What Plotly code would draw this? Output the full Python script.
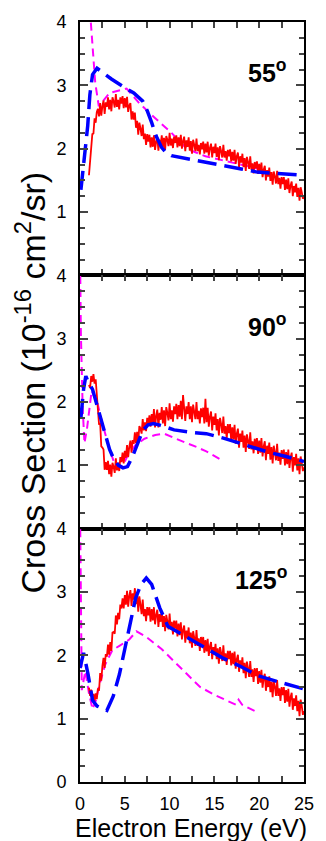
import plotly.graph_objects as go
from plotly.subplots import make_subplots

# ---------------- data ----------------
angle_labels = ["55", "90", "125"]

# experimental (red, noisy) – energies start at 1.0 eV, step 0.125 eV
exp_start = 1.0
exp_step = 0.125
exp_55 = [
    1.58, 1.80, 1.90, 2.23, 2.24, 2.48, 2.41, 2.58,
    2.63, 2.51, 2.72, 2.52, 2.67, 2.76, 2.55, 2.73,
    2.66, 2.81, 2.62, 2.77, 2.59, 2.81, 2.75, 2.65,
    2.86, 2.66, 2.77, 2.62, 2.81, 2.71, 2.83, 2.64,
    2.80, 2.65, 2.82, 2.58, 2.68, 2.72, 2.46, 2.59,
    2.46, 2.57, 2.33, 2.44, 2.22, 2.41, 2.32, 2.20,
    2.38, 2.15, 2.24, 2.06, 2.23, 2.11, 2.22, 2.02,
    2.18, 2.03, 2.21, 1.98, 2.11, 2.18, 1.97, 2.14,
    2.06, 2.21, 2.02, 2.17, 1.98, 2.20, 2.14, 2.04,
    2.25, 2.05, 2.16, 2.01, 2.19, 2.09, 2.21, 2.02,
    2.18, 2.04, 2.22, 2.00, 2.12, 2.19, 1.96, 2.13,
    2.03, 2.18, 1.97, 2.12, 1.92, 2.14, 2.06, 1.96,
    2.16, 1.96, 2.06, 1.91, 2.09, 1.99, 2.11, 1.92,
    2.08, 1.94, 2.11, 1.89, 2.01, 2.08, 1.86, 2.03,
    1.93, 2.08, 1.87, 2.02, 1.82, 2.04, 1.96, 1.86,
    2.06, 1.86, 1.96, 1.81, 1.98, 1.88, 1.99, 1.80,
    1.95, 1.81, 1.98, 1.76, 1.88, 1.94, 1.71, 1.88,
    1.78, 1.92, 1.71, 1.85, 1.65, 1.87, 1.79, 1.68,
    1.88, 1.67, 1.77, 1.61, 1.79, 1.69, 1.80, 1.60,
    1.76, 1.61, 1.78, 1.55, 1.67, 1.73, 1.50, 1.66,
    1.56, 1.70, 1.49, 1.63, 1.43, 1.64, 1.56, 1.45,
    1.65, 1.44, 1.54, 1.37, 1.55, 1.44, 1.55, 1.35,
    1.51, 1.36, 1.53, 1.30, 1.42, 1.48, 1.25, 1.41,
    1.31, 1.45, 1.24, 1.38, 1.18, 1.39, 1.31, 1.21,
    1.24]
exp_90 = [
    2.27, 2.22, 2.41, 2.32, 2.44, 2.29, 2.36, 2.12,
    1.93, 1.64, 1.67, 1.30, 1.28, 1.25, 0.93, 1.05,
    0.93, 1.07, 0.86, 1.01, 0.82, 1.04, 0.98, 0.88,
    1.11, 0.92, 1.04, 0.91, 1.13, 1.05, 1.20, 1.03,
    1.23, 1.12, 1.32, 1.13, 1.29, 1.39, 1.20, 1.40,
    1.34, 1.52, 1.35, 1.53, 1.37, 1.62, 1.58, 1.50,
    1.73, 1.55, 1.68, 1.54, 1.75, 1.66, 1.79, 1.61,
    1.81, 1.64, 1.89, 1.60, 1.78, 1.88, 1.60, 1.83,
    1.72, 1.92, 1.66, 1.87, 1.62, 1.92, 1.83, 1.71,
    1.98, 1.73, 1.87, 1.69, 1.93, 1.81, 1.97, 1.73,
    1.95, 1.77, 2.02, 1.73, 2.11, 1.91, 1.70, 1.93,
    1.81, 2.00, 1.73, 1.93, 1.68, 1.96, 1.87, 1.73,
    2.00, 1.73, 1.86, 1.66, 1.90, 1.76, 1.91, 1.66,
    2.05, 1.68, 1.91, 1.61, 1.77, 1.85, 1.55, 1.77,
    1.64, 1.82, 1.55, 1.73, 1.47, 1.75, 1.65, 1.51,
    1.77, 1.50, 1.62, 1.42, 1.65, 1.51, 1.65, 1.39,
    1.60, 1.41, 1.64, 1.34, 1.50, 1.58, 1.28, 1.50,
    1.37, 1.55, 1.28, 1.47, 1.21, 1.49, 1.39, 1.26,
    1.52, 1.25, 1.38, 1.19, 1.42, 1.28, 1.43, 1.18,
    1.39, 1.20, 1.43, 1.14, 1.30, 1.38, 1.08, 1.31,
    1.18, 1.36, 1.09, 1.29, 1.03, 1.31, 1.21, 1.08,
    1.34, 1.07, 1.20, 1.01, 1.24, 1.10, 1.25, 1.00,
    1.21, 1.02, 1.25, 0.96, 1.12, 1.20, 0.90, 1.13,
    1.00, 1.18, 0.92, 1.11, 0.86, 1.14, 1.04, 0.91,
    0.97]
exp_125 = [
    1.49, 1.36, 1.46, 1.31, 1.39, 1.28, 1.40, 1.31,
    1.48, 1.44, 1.72, 1.60, 1.83, 1.96, 1.80, 2.02,
    1.98, 2.17, 2.01, 2.21, 2.07, 2.36, 2.37, 2.34,
    2.63, 2.49, 2.67, 2.57, 2.80, 2.74, 2.90, 2.74,
    2.95, 2.80, 3.02, 2.77, 2.94, 3.03, 2.78, 2.98,
    2.88, 3.06, 2.81, 2.97, 2.69, 2.93, 2.80, 2.65,
    2.88, 2.62, 2.73, 2.54, 2.76, 2.63, 2.76, 2.53,
    2.73, 2.55, 2.76, 2.49, 2.64, 2.72, 2.45, 2.65,
    2.53, 2.70, 2.45, 2.62, 2.38, 2.64, 2.54, 2.41,
    2.66, 2.41, 2.53, 2.33, 2.55, 2.42, 2.55, 2.30,
    2.50, 2.32, 2.52, 2.25, 2.40, 2.47, 2.20, 2.39,
    2.27, 2.44, 2.19, 2.36, 2.12, 2.38, 2.28, 2.15,
    2.40, 2.15, 2.27, 2.07, 2.29, 2.16, 2.29, 2.04,
    2.24, 2.06, 2.26, 1.99, 2.14, 2.21, 1.94, 2.13,
    2.01, 2.18, 1.94, 2.11, 1.87, 2.13, 2.04, 1.91,
    2.16, 1.91, 2.03, 1.85, 2.07, 1.94, 2.07, 1.84,
    2.04, 1.86, 2.06, 1.79, 1.94, 2.01, 1.74, 1.92,
    1.80, 1.97, 1.72, 1.88, 1.64, 1.90, 1.80, 1.66,
    1.91, 1.66, 1.78, 1.58, 1.80, 1.67, 1.80, 1.55,
    1.75, 1.57, 1.77, 1.49, 1.64, 1.71, 1.44, 1.62,
    1.50, 1.67, 1.42, 1.58, 1.34, 1.60, 1.50, 1.36,
    1.61, 1.36, 1.48, 1.28, 1.50, 1.37, 1.50, 1.25,
    1.45, 1.27, 1.47, 1.19, 1.34, 1.41, 1.14, 1.32,
    1.20, 1.37, 1.12, 1.28, 1.04, 1.30, 1.20, 1.06,
    1.12]

# theory 1 (blue long dash)
blue_55_e = [0.1, 0.5, 0.86, 1.1, 1.4, 1.9, 3.5, 5.15, 6.0, 7.0, 7.5, 8.0, 8.5, 9.1, 9.6, 10.2, 11.6, 14.0, 15.9, 18.0, 19.8, 22.5, 25.0]
blue_55_v = [1.35, 1.85, 2.36, 2.85, 3.17, 3.27, 3.10, 2.95, 2.88, 2.75, 2.60, 2.41, 2.20, 2.02, 1.94, 1.89, 1.85, 1.79, 1.73, 1.68, 1.63, 1.60, 1.58]
blue_90_e = [0.1, 0.4, 0.65, 0.9, 1.4, 2.0, 2.7, 3.3, 3.8, 4.3, 4.8, 5.3, 5.9, 6.4, 7.0, 7.6, 8.2, 9.0, 10.5, 12.5, 14.1, 16.0, 17.7, 19.5, 21.2, 23.0, 25.0]
blue_90_v = [1.75, 2.20, 2.41, 2.32, 2.20, 1.90, 1.51, 1.25, 1.09, 1.00, 0.96, 0.98, 1.15, 1.33, 1.55, 1.64, 1.66, 1.63, 1.56, 1.52, 1.50, 1.43, 1.35, 1.28, 1.20, 1.14, 1.06]
blue_125_e = [0.0, 0.4, 0.9, 1.4, 1.9, 2.5, 3.0, 3.7, 4.4, 5.0, 5.6, 6.2, 6.8, 7.4, 8.0, 8.9, 9.8, 11.6, 13.5, 15.9, 18.0, 19.8, 22.2, 25.0]
blue_125_v = [1.80, 2.04, 1.70, 1.29, 1.20, 1.16, 1.13, 1.35, 1.70, 2.10, 2.50, 2.90, 3.12, 3.22, 3.12, 2.75, 2.46, 2.31, 2.15, 1.96, 1.82, 1.68, 1.58, 1.47]

# theory 2 (magenta short dash)
mag_55_e = [1.0, 1.2, 1.4, 1.7, 2.1, 3.3, 5.2, 6.6, 8.4, 10.2, 11.9, 14.0, 17.0, 20.0]
mag_55_v = [4.40, 4.00, 3.56, 3.04, 2.67, 2.88, 2.95, 2.72, 2.48, 2.25, 2.00, 1.88, 1.78, 1.68]
mag_90_e = [0.0, 0.1, 0.3, 0.5, 0.8, 1.3, 2.0, 2.5, 3.3, 3.8, 4.3, 4.8, 5.3, 6.2, 7.2, 8.4, 9.4, 10.5, 11.9, 13.0, 14.1, 15.7]
mag_90_v = [4.40, 3.07, 1.90, 1.35, 1.60, 2.18, 1.95, 1.66, 1.25, 1.05, 0.96, 1.00, 1.15, 1.32, 1.42, 1.48, 1.50, 1.43, 1.35, 1.29, 1.22, 1.09]
mag_125_e = [0.0, 0.1, 0.2, 0.4, 0.6, 1.0, 1.4, 1.8, 2.1, 2.8, 3.6, 4.4, 5.5, 6.3, 7.3, 9.1, 11.6, 13.4, 15.1, 16.9, 17.4, 17.7, 18.1, 19.8]
mag_125_v = [4.40, 2.50, 1.45, 1.60, 1.75, 1.40, 1.15, 1.30, 1.50, 1.85, 2.08, 2.15, 2.25, 2.38, 2.30, 2.10, 1.76, 1.50, 1.37, 1.25, 1.22, 1.30, 1.22, 1.10]

x_ticks = [0, 5, 10, 15, 20, 25]
y_ticks_upper = [1, 2, 3, 4]
y_ticks_bottom = [0, 1, 2, 3, 4]

# ---------------- figure ----------------
exp_sets = [exp_55, exp_90, exp_125]
blue_sets = [(blue_55_e, blue_55_v), (blue_90_e, blue_90_v), (blue_125_e, blue_125_v)]
mag_sets = [(mag_55_e, mag_55_v), (mag_90_e, mag_90_v), (mag_125_e, mag_125_v)]

FONT = "Liberation Sans, Arial"

fig = make_subplots(rows=3, cols=1, shared_xaxes=True, vertical_spacing=0)

for i in range(3):
    r = i + 1
    me, mv = mag_sets[i]
    fig.add_trace(go.Scatter(x=me, y=mv, mode="lines",
                             line=dict(color="#FF00FF", width=2, dash="8px,5px")), row=r, col=1)
    ev = exp_sets[i]
    ex = [exp_start + exp_step * k for k in range(len(ev))]
    fig.add_trace(go.Scatter(x=ex, y=ev, mode="lines",
                             line=dict(color="#FF0000", width=1.8)), row=r, col=1)
    be, bv = blue_sets[i]
    fig.add_trace(go.Scatter(x=be, y=bv, mode="lines",
                             line=dict(color="#0000FF", width=3.5, dash="19px,8px")), row=r, col=1)

    fig.update_xaxes(range=[0, 25], tickvals=x_ticks, ticks="inside", ticklen=6, tickwidth=2,
                     showline=True, linewidth=2, linecolor="black", mirror="allticks",
                     minor=dict(dtick=2.5, tick0=0, ticks="inside", ticklen=6, tickwidth=2),
                     showgrid=False, zeroline=False,
                     tickfont=dict(family=FONT, size=18, color="black"),
                     row=r, col=1)
    yt = y_ticks_bottom if r == 3 else y_ticks_upper
    fig.update_yaxes(range=[0, 4], tickvals=yt, ticks="inside", ticklen=8, tickwidth=2,
                     showline=True, linewidth=2, linecolor="black", mirror="allticks",
                     minor=dict(dtick=0.25, tick0=0, ticks="inside", ticklen=5, tickwidth=2),
                     showgrid=False, zeroline=False, ticklabelstandoff=8,
                     tickfont=dict(family=FONT, size=18, color="black"),
                     row=r, col=1)
    yref = "y" if r == 1 else f"y{r}"
    xref = "x" if r == 1 else f"x{r}"
    fig.add_annotation(x=23.3, y=3.22, xref=xref, yref=yref, xanchor="right", yanchor="middle",
                       text=f"<b>{angle_labels[i]}<sup>o</sup></b>", showarrow=False,
                       font=dict(family=FONT, size=25, color="black"))

fig.update_xaxes(ticklabelstandoff=4, row=3, col=1)

fig.add_annotation(x=0.496, y=-0.06, xref="paper", yref="paper", xanchor="center", yanchor="middle",
                   text="Electron Energy (eV)", showarrow=False,
                   font=dict(family=FONT, size=25, color="black"))
fig.add_annotation(x=-0.225, y=0.525, xref="paper", yref="paper", xanchor="center", yanchor="middle",
                   textangle=-90, text="Cross Section (10<sup>-16</sup> cm<sup>2</sup>/sr)", showarrow=False,
                   font=dict(family=FONT, size=34, color="black"))

fig.update_layout(width=326, height=841, margin=dict(l=80, r=13, t=15, b=59),
                  plot_bgcolor="white", paper_bgcolor="white", showlegend=False)

fig.write_html("out.html", config={"displayModeBar": False},
               post_script="document.documentElement.style.margin='0';document.body.style.margin='0';"
                           "document.body.style.overflow='hidden';")
